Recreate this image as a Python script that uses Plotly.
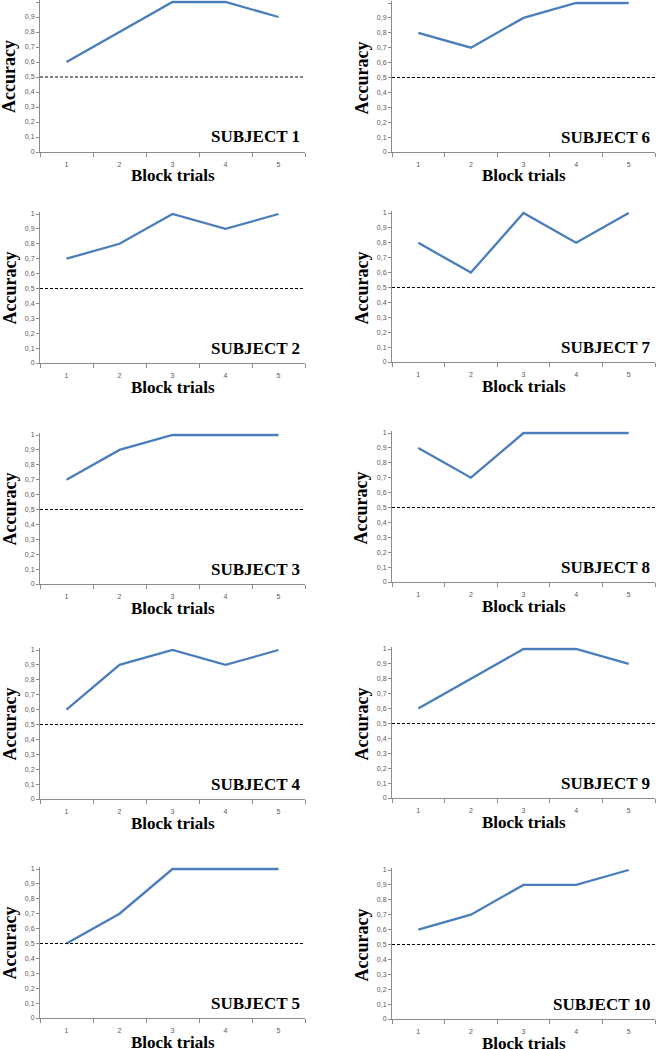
import plotly.graph_objects as go

blocks = [1, 2, 3, 4, 5]
subject_names = ["SUBJECT 1", "SUBJECT 2", "SUBJECT 3", "SUBJECT 4", "SUBJECT 5",
                 "SUBJECT 6", "SUBJECT 7", "SUBJECT 8", "SUBJECT 9", "SUBJECT 10"]
s1 = [0.6, 0.8, 1.0, 1.0, 0.9]
s2 = [0.7, 0.8, 1.0, 0.9, 1.0]
s3 = [0.7, 0.9, 1.0, 1.0, 1.0]
s4 = [0.6, 0.9, 1.0, 0.9, 1.0]
s5 = [0.5, 0.7, 1.0, 1.0, 1.0]
s6 = [0.8, 0.7, 0.9, 1.0, 1.0]
s7 = [0.8, 0.6, 1.0, 0.8, 1.0]
s8 = [0.9, 0.7, 1.0, 1.0, 1.0]
s9 = [0.6, 0.8, 1.0, 1.0, 0.9]
s10 = [0.6, 0.7, 0.9, 0.9, 1.0]
chance_level = 0.5
y_tickvals = [0, 0.1, 0.2, 0.3, 0.4, 0.5, 0.6, 0.7, 0.8, 0.9, 1]
y_ticktext = ["0", "0,1", "0,2", "0,3", "0,4", "0,5", "0,6", "0,7", "0,8", "0,9", "1"]
x_title = "Block trials"
y_title = "Accuracy"

series = [s1, s2, s3, s4, s5, s6, s7, s8, s9, s10]

W, H = 659, 1049
# pixel geometry: (x_left, x_right, y_top(value 1), y_bottom(value 0))
left_x = (40, 305)
right_x = (392, 655)
left_rows = [(2, 152), (214, 363), (435, 584), (650, 799), (869, 1018)]
right_rows = [(3, 152), (213, 362), (433, 582), (649, 798), (870, 1019)]

YMAX = 1.012
line_color = "#4A7EBB"
axis_color = "#8C8C8C"
tick_font = dict(family="Liberation Sans, Arial, sans-serif", size=7, color="#595959")
serif = "Liberation Serif, Times New Roman, serif"

fig = go.Figure()
layout = dict(width=W, height=H, margin=dict(l=0, r=0, t=0, b=0),
              paper_bgcolor="white", plot_bgcolor="white", showlegend=False)
annotations = []
shapes = []

for i, vals in enumerate(series):
    col = 0 if i < 5 else 1
    row = i % 5
    xl, xr = left_x if col == 0 else right_x
    yt, yb = (left_rows if col == 0 else right_rows)[row]
    yt_ext = yb - (yb - yt) * YMAX
    k = i + 1
    xa = "xaxis" if k == 1 else f"xaxis{k}"
    ya = "yaxis" if k == 1 else f"yaxis{k}"
    xr_ = "x" if k == 1 else f"x{k}"
    yr_ = "y" if k == 1 else f"y{k}"

    fig.add_trace(go.Scatter(x=blocks, y=vals, mode="lines", xaxis=xr_, yaxis=yr_,
                             line=dict(color=line_color, width=2.3), cliponaxis=False,
                             hoverinfo="skip"))

    layout[xa] = dict(domain=[xl / W, xr / W], anchor=yr_, range=[0.5, 5.5],
                      tickvals=blocks, ticktext=[str(b) for b in blocks],
                      ticks="", showgrid=False, zeroline=False,
                      showline=True, linecolor=axis_color, linewidth=1,
                      tickfont=tick_font, ticklabelstandoff=6, automargin=False,
                      minor=dict(tickvals=[0.5, 1.5, 2.5, 3.5, 4.5, 5.5], ticks="outside",
                                 ticklen=4, tickcolor=axis_color, showgrid=False),
                      fixedrange=True)
    layout[ya] = dict(domain=[1 - yb / H, 1 - yt_ext / H], anchor=xr_, range=[0, YMAX],
                      tickvals=y_tickvals, ticktext=y_ticktext,
                      ticks="outside", ticklen=3, tickcolor=axis_color,
                      showgrid=False, zeroline=False,
                      showline=True, linecolor=axis_color, linewidth=1,
                      tickfont=tick_font, automargin=False, fixedrange=True)

    shapes.append(dict(type="line", xref=f"{xr_} domain", yref=yr_, x0=0, x1=1,
                       y0=chance_level, y1=chance_level,
                       line=dict(color="black", width=1, dash="3px,2px")))

    annotations.append(dict(text=subject_names[i], xref=f"{xr_} domain", yref=yr_,
                            x=0.99, y=0.1, xanchor="right", yanchor="middle",
                            showarrow=False,
                            font=dict(family=serif, size=17, color="black", weight="bold")))
    annotations.append(dict(text=x_title, xref="paper", yref="paper",
                            x=(xl + xr) / 2 / W, y=1 - (yb + 24) / H,
                            xanchor="center", yanchor="middle", showarrow=False,
                            font=dict(family=serif, size=17, color="black", weight="bold")))
    annotations.append(dict(text=y_title, xref="paper", yref="paper",
                            x=(xl - 31) / W, y=1 - ((yt + yb) / 2) / H,
                            xanchor="center", yanchor="middle", textangle=-90,
                            showarrow=False,
                            font=dict(family=serif, size=18, color="black", weight="bold")))

layout["annotations"] = annotations
layout["shapes"] = shapes
fig.update_layout(**layout)
fig.write_html("out.html", config={"displayModeBar": False, "staticPlot": True},
               post_script="document.body.style.margin='0';document.body.style.overflow='hidden';")
